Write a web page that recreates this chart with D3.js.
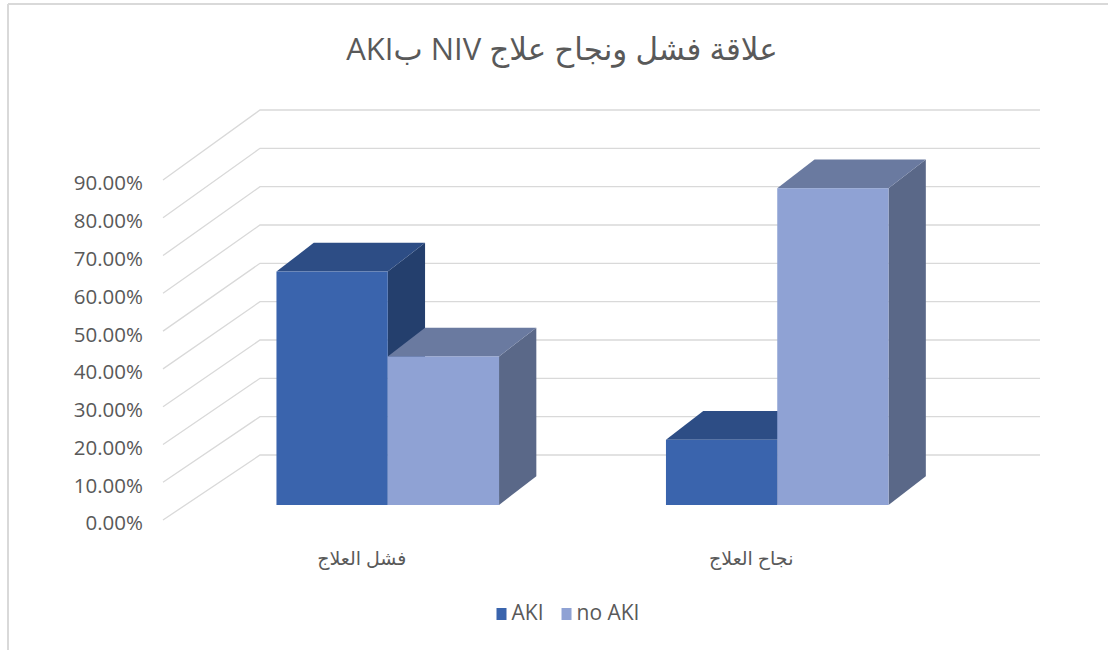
<!DOCTYPE html>
<html>
<head>
<meta charset="utf-8">
<script src="https://cdn.jsdelivr.net/npm/d3@7"></script>
<style>
  html, body { margin: 0; padding: 0; background: #fff; }
  svg { display: block; }
  text { font-family: "Open Sans", "DejaVu Sans", sans-serif; fill: #595959; }
</style>
</head>
<body>
<svg id="chart" width="1108" height="650"></svg>
<script>
// Data
const categories = ["فشل العلاج", "نجاح العلاج"];
const seriesNames = ["AKI", "no AKI"];
const akiValues = [0.6111, 0.1707];
const noAkiValues = [0.3889, 0.8293];
const tickValues = [0, 0.1, 0.2, 0.3, 0.4, 0.5, 0.6, 0.7, 0.8, 0.9];
const titleText = "علاقة فشل ونجاح علاج NIV بAKI";

// Face colours per series: front, top, side
const palette = {
  "AKI":    { front: "#3a64ad", top: "#2d4d85", side: "#243f6d" },
  "no AKI": { front: "#8fa2d4", top: "#6a7aa0", side: "#5a6888" }
};

const svg = d3.select("#chart");
const W = 1108, H = 650;

// Outer frame (top and left edges visible)
svg.append("line").attr("x1", 8).attr("y1", 4).attr("x2", W).attr("y2", 4)
  .attr("stroke", "#d9d9d9").attr("stroke-width", 2);
svg.append("line").attr("x1", 8).attr("y1", 4).attr("x2", 8).attr("y2", H)
  .attr("stroke", "#d9d9d9").attr("stroke-width", 2);

// Title
svg.append("text")
  .attr("x", 562).attr("y", 52)
  .attr("text-anchor", "middle")
  .attr("dominant-baseline", "middle")
  .attr("direction", "rtl")
  .style("font-size", "31px")
  .text(titleText);

// 3D geometry
const wallFront = { x: 163 };   // side wall, front edge
const wallBack = { x: 260 };    // side wall, back edge
const backRight = 1040;         // back wall right end
const depth = { dx: 37.3, dy: -28.7 }; // bar depth offset

// Value scales: side wall front edge, back wall, and bar front faces
const yFront = d3.scaleLinear().domain([0, 0.9]).range([520, 180]);
const yBack = d3.scaleLinear().domain([0, 0.9]).range([455, 110]);
const yBar = d3.scaleLinear().domain([0, 1]).range([505, 123]);

// Category band along the bar front plane, series bands within
const x0 = d3.scaleBand().domain(categories).range([193, 972]).paddingInner(0).paddingOuter(0);
const x1 = d3.scaleBand().domain(seriesNames).range([0, x0.bandwidth()]).paddingInner(0).paddingOuter(0.75);

// Gridlines: slanted on the side wall, horizontal on the back wall
const grid = svg.append("g").attr("class", "grid")
  .attr("stroke", "#d9d9d9").attr("stroke-width", 1.3).attr("fill", "none");
grid.selectAll("path.side").data(tickValues).join("path")
  .attr("class", "side")
  .attr("d", v => `M${wallFront.x},${yFront(v)}L${wallBack.x},${yBack(v)}L${backRight},${yBack(v)}`);

// Tick labels
const fmt = d3.format(".2%");
svg.append("g").selectAll("text").data(tickValues).join("text")
  .attr("x", 143).attr("y", v => yFront(v) + 5)
  .attr("text-anchor", "end")
  .attr("dominant-baseline", "middle")
  .style("font-size", "20.5px")
  .text(v => fmt(v));

// Bars
const rows = [];
categories.forEach((c, i) => {
  rows.push({ cat: c, series: "AKI", value: akiValues[i] });
  rows.push({ cat: c, series: "no AKI", value: noAkiValues[i] });
});

const bars = svg.append("g").attr("class", "bars");
rows.forEach(d => {
  const xl = x0(d.cat) + x1(d.series);
  const xr = xl + x1.bandwidth();
  const yt = yBar(d.value);
  const yb = yBar(0);
  const c = palette[d.series];
  const g = bars.append("g");
  // side face
  g.append("path")
    .attr("d", `M${xr},${yt}L${xr + depth.dx},${yt + depth.dy}L${xr + depth.dx},${yb + depth.dy}L${xr},${yb}Z`)
    .attr("fill", c.side);
  // top face
  g.append("path")
    .attr("d", `M${xl},${yt}L${xl + depth.dx},${yt + depth.dy}L${xr + depth.dx},${yt + depth.dy}L${xr},${yt}Z`)
    .attr("fill", c.top);
  // front face
  g.append("rect")
    .attr("x", xl).attr("y", yt)
    .attr("width", xr - xl).attr("height", yb - yt)
    .attr("fill", c.front);
});

// Category labels along the front floor edge
const labelShift = -26;
svg.append("g").selectAll("text").data(categories).join("text")
  .attr("x", c => x0(c) + x0.bandwidth() / 2 + labelShift)
  .attr("y", 560)
  .attr("text-anchor", "middle")
  .attr("dominant-baseline", "middle")
  .attr("direction", "rtl")
  .style("font-size", "19px")
  .text(c => c);

// Legend
const legend = svg.append("g").attr("class", "legend");
let lx = 0;
const items = [];
seriesNames.forEach(s => {
  const item = legend.append("g");
  item.append("rect").attr("x", 0).attr("y", -6).attr("width", 10).attr("height", 12)
    .attr("fill", palette[s].front);
  const t = item.append("text").attr("x", 15).attr("y", 0)
    .attr("dominant-baseline", "middle")
    .style("font-size", "21px")
    .text(s);
  const w = 15 + t.node().getComputedTextLength();
  items.push({ item, w });
});
const gap = 18;
const total = d3.sum(items, d => d.w) + gap * (items.length - 1);
lx = 568 - total / 2;
items.forEach(d => {
  d.item.attr("transform", `translate(${lx},614)`);
  lx += d.w + gap;
});
</script>
</body>
</html>
